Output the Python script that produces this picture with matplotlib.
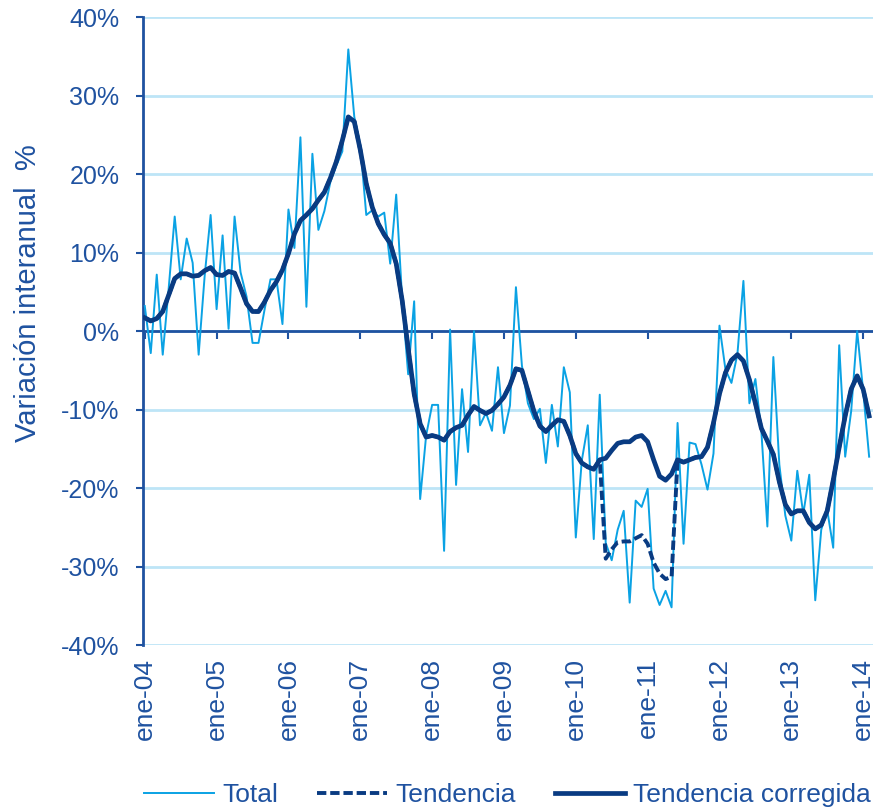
import numpy as np
import matplotlib.pyplot as plt

# monthly series, ene-04 .. feb-14 (% year-on-year)
total = [3.2, -2.8, 7.2, -3.0, 5.5, 14.6, 6.6, 11.8, 8.7, -3.0, 7.0, 14.8,
         2.8, 12.2, 0.3, 14.6, 7.5, 4.4, -1.5, -1.5, 2.7, 6.6, 6.6, 0.9,
         15.5, 10.6, 24.7, 3.1, 22.6, 12.9, 15.3, 19.0, 21.1, 22.9, 35.9, 27.3,
         23.7, 14.8, 15.4, 14.6, 15.1, 8.6, 17.4, 4.0, -5.5, 3.8, -21.4, -13.3,
         -9.4, -9.4, -28.0, 0.2, -19.6, -7.4, -15.4, 0.0, -12.0, -10.4, -12.7, -4.6,
         -13.0, -9.5, 5.6, -4.4, -9.2, -11.2, -9.9, -16.8, -9.4, -14.7, -4.6, -7.8,
         -26.3, -16.5, -12.0, -26.5, -8.1, -27.0, -29.2, -25.3, -22.9, -34.6, -21.6, -22.4,
         -20.1, -32.8, -34.9, -33.1, -35.2, -11.7, -27.1, -14.2, -14.4, -17.0, -20.2, -15.6,
         0.7, -4.9, -6.6, -2.9, 6.4, -9.2, -6.1, -12.8, -24.9, -3.3, -17.0, -23.5,
         -26.7, -17.8, -23.3, -18.3, -34.3, -25.3, -22.8, -27.6, -1.8, -16.0, -10.2, 0.0,
         -7.6, -16.0]

tend_corr = [1.7, 1.3, 1.6, 2.5, 4.6, 6.7, 7.3, 7.3, 7.0, 7.1, 7.7, 8.1,
             7.2, 7.1, 7.6, 7.4, 5.5, 3.5, 2.5, 2.5, 3.7, 5.2, 6.3, 7.8,
             9.9, 12.4, 14.1, 14.8, 15.6, 16.7, 17.7, 19.5, 21.6, 24.3, 27.3, 26.7,
             23.1, 18.8, 15.8, 13.7, 12.3, 11.2, 8.6, 3.9, -2.2, -8.0, -11.8, -13.5,
             -13.3, -13.5, -13.9, -12.8, -12.3, -12.0, -10.7, -9.6, -10.1, -10.5, -10.1, -9.3,
             -8.4, -6.9, -4.8, -5.0, -7.6, -10.2, -12.1, -12.8, -12.0, -11.3, -11.5, -13.3,
             -15.6, -16.8, -17.3, -17.6, -16.4, -16.2, -15.2, -14.3, -14.1, -14.1, -13.5, -13.3,
             -14.1, -16.4, -18.5, -19.0, -18.2, -16.4, -16.7, -16.4, -16.1, -16.0, -14.8, -11.7,
             -8.0, -5.3, -3.7, -3.0, -3.8, -6.2, -9.2, -12.4, -14.0, -15.7, -19.2, -22.1,
             -23.3, -22.9, -22.9, -24.4, -25.2, -24.7, -22.9, -19.0, -14.8, -10.8, -7.4, -5.7,
             -7.4, -10.8]

# uncorrected trend differs only between jun-10 and may-11
tend_gap = [-29.0, -27.8, -26.9, -26.8, -26.8, -26.4, -26.0, -27.1, -29.5, -30.9, -31.6, -31.3]
gap_start = 77
tendencia = tend_corr[:gap_start] + tend_gap + tend_corr[gap_start + len(tend_gap):]

years = ['04', '05', '06', '07', '08', '09', '10', '11', '12', '13', '14']
tick_labels = ['ene-' + y for y in years]

c_total = '#0AA2E4'
c_dark = '#093B82'
c_axis = '#1F52A0'
c_grid = '#BDE5F7'

plt.rcParams['font.family'] = ['Liberation Sans', 'DejaVu Sans']

fig = plt.figure(figsize=(8.75, 8.1), dpi=100)
ax = fig.add_axes([0.1634, 0.2037, 0.834, 0.775])

x = np.arange(len(total))
ax.plot(x, total, color=c_total, lw=1.4, label='Total', zorder=3)
ax.plot(x, tendencia, color=c_dark, lw=2.8, ls=(0, (2.4, 1.0)), label='Tendencia', zorder=4)
ax.plot(x, tend_corr, color=c_dark, lw=3.4, label='Tendencia corregida', zorder=5)

ax.set_ylim(-40, 40)
ax.set_xlim(-0.3, 121.6)
ax.set_yticks(np.arange(-40, 41, 10))
ax.set_yticklabels([f'{v}%' for v in range(-40, 41, 10)])
ax.yaxis.grid(True, color=c_grid, lw=2)
ax.set_axisbelow(True)
ax.axhline(0, color=c_axis, lw=2, zorder=2)

xt = np.arange(0, 121, 12)
ax.set_xticks(xt)
ax.set_xticklabels(tick_labels, rotation=90)
ax.tick_params(axis='x', length=0, pad=9, labelsize=19, labelcolor=c_axis)
ax.tick_params(axis='y', direction='out', length=5, width=1.5, color=c_axis,
               labelsize=18, labelcolor=c_axis, pad=12)

for s in ['top', 'right', 'bottom']:
    ax.spines[s].set_visible(False)
ax.spines['left'].set_color(c_axis)
ax.spines['left'].set_linewidth(2)

# yearly tick marks hanging below the zero line
zero = ax.secondary_xaxis(0.5)
zero.set_xticks(xt)
zero.set_xticklabels([])
zero.tick_params(direction='in', length=6, width=1.5, color=c_axis)
for s in zero.spines.values():
    s.set_visible(False)

ax.set_ylabel('Variación interanual  %', color=c_axis, fontsize=21)
ax.yaxis.set_label_coords(-0.138, 0.56)

fig.legend(loc='center', bbox_to_anchor=(0.58, 0.0185), ncol=3, frameon=False,
           fontsize=19, handlelength=2.65, columnspacing=1.5, handletextpad=0.3,
           labelcolor=c_axis)

fig.savefig('out.png', dpi=100)
